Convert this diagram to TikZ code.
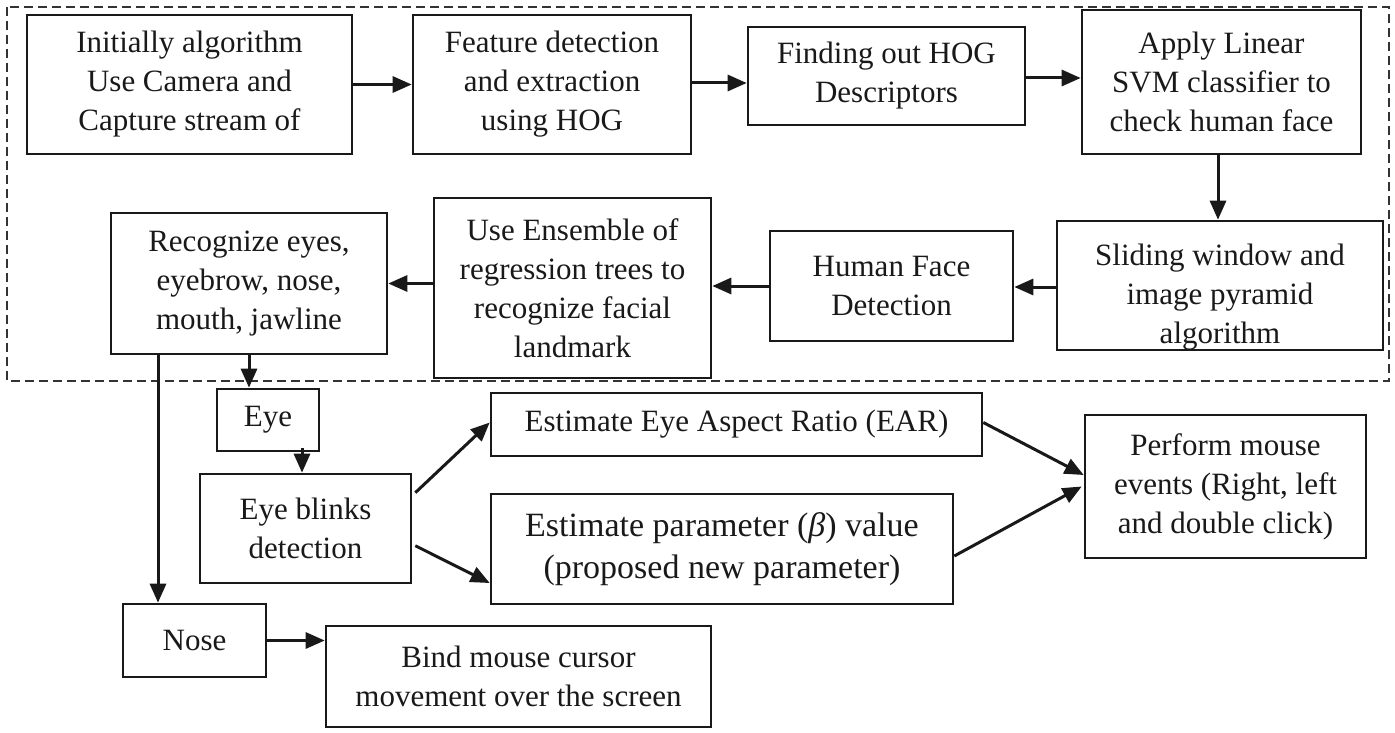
\documentclass[tikz,border=0pt]{standalone}
\usepackage{fontspec}
\setmainfont{Liberation Serif}
\usetikzlibrary{arrows.meta}
\tikzset{
  box/.style={draw=black!90, line width=2.6pt, rectangle, inner sep=0pt, align=center,
    font=\fontsize{31pt}{39pt}\selectfont, text=black!90},
  arr/.style={line width=3pt, draw=black!90, -{Triangle[length=19pt,width=16pt]}},
  frame/.style={draw=black!80, line width=2.2pt, dash pattern=on 9pt off 5pt}
}
\begin{document}
\begin{tikzpicture}[x=1pt,y=-1pt]
\useasboundingbox (0,0) rectangle (1395,733);
\draw[frame] (7,7) rectangle (1389,381);
% row 1
\node[box, minimum width=325pt, minimum height=139pt] (b1) at (189.5,84.5) {Initially algorithm\\Use Camera and\\Capture stream of};
\node[box, minimum width=278pt, minimum height=139pt] (b2) at (552,84.5) {Feature detection\\and extraction\\using HOG};
\node[box, minimum width=277pt, minimum height=98pt] (b3) at (886.5,76) {Finding out HOG\\Descriptors};
\node[box, minimum width=279pt, minimum height=144pt] (b4) at (1221.5,82) {Apply Linear\\SVM classifier to\\check human face};
% row 2
\begin{scope}
\clip (1057,221) rectangle (1383,350);
\node[box, draw=none] (b5t) at (1220,297) {Sliding window and\\image pyramid\\algorithm};
\end{scope}
\node[box, minimum width=326pt, minimum height=129pt] (b5) at (1220,285.5) {};
\node[box, minimum width=243pt, minimum height=110pt] (b6) at (891.5,286) {Human Face\\Detection};
\node[box, minimum width=277pt, minimum height=180pt] (b7) at (572.5,288) {Use Ensemble of\\regression trees to\\recognize facial\\landmark};
\node[box, minimum width=276pt, minimum height=141pt] (b8) at (249,283.5) {Recognize eyes,\\eyebrow, nose,\\mouth, jawline};
% lower part
\node[box, minimum width=102pt, minimum height=62pt] (eye) at (268,420) {Eye};
\node[box, minimum width=211pt, minimum height=109pt] (blink) at (305.5,528.5) {Eye blinks\\detection};
\node[box, minimum width=491pt, minimum height=63pt] (ear) at (736.5,424.5) {Estimate Eye Aspect Ratio (EAR)};
\node[box, minimum width=462pt, minimum height=110pt, font=\fontsize{34pt}{42pt}\selectfont] (param) at (722,549) {Estimate parameter (\textit{β}) value\\(proposed new parameter)};
\node[box, minimum width=281pt, minimum height=143pt] (perform) at (1225.5,486.5) {Perform mouse\\events (Right, left\\and double click)};
\node[box, minimum width=143pt, minimum height=73pt] (nose) at (194.5,640.5) {Nose};
\node[box, minimum width=385pt, minimum height=101pt] (bind) at (518.5,676.5) {Bind mouse cursor\\movement over the screen};
% connectors
\draw[arr] (b1.east) -- (b1.east -| b2.west);
\draw[arr] ([yshift=1.5pt]b2.east) -- ([yshift=1.5pt]b2.east -| b3.west);
\draw[arr] ([yshift=-2pt]b3.east) -- ([yshift=-2pt]b3.east -| b4.west);
\draw[arr] ([xshift=-3.5pt]b4.south) -- ([xshift=-3.5pt]b4.south |- b5.north);
\draw[arr] ([yshift=-1.5pt]b5.west) -- ([yshift=-1.5pt]b5.west -| b6.east);
\draw[arr] (b6.west) -- (b6.west -| b7.east);
\draw[arr] (b8.east -| b7.west) -- (b8.east);
\draw[arr] (b8.south) -- (b8.south |- eye.north);
\coordinate (nosein) at ([xshift=-36.5pt]nose.north);
\draw[arr] (nosein |- b8.south) -- (nosein);
\coordinate (eyeb) at ([xshift=34pt,yshift=4pt]eye.south);
\draw[arr] (eyeb) -- (eyeb |- blink.north);
\draw[arr] ([xshift=3pt,yshift=-20pt]blink.north east) -- ([yshift=2pt]ear.west);
\draw[arr] ([xshift=3pt,yshift=-73pt]blink.north east) -- ([yshift=-34pt]param.west);
\draw[arr] ([yshift=2pt]ear.east) -- ([yshift=11.5pt]perform.west);
\draw[arr] ([yshift=-7pt]param.east) -- ([xshift=-2pt]perform.west);
\draw[arr] (nose.east) -- (nose.east -| bind.west);
\end{tikzpicture}
\end{document}
